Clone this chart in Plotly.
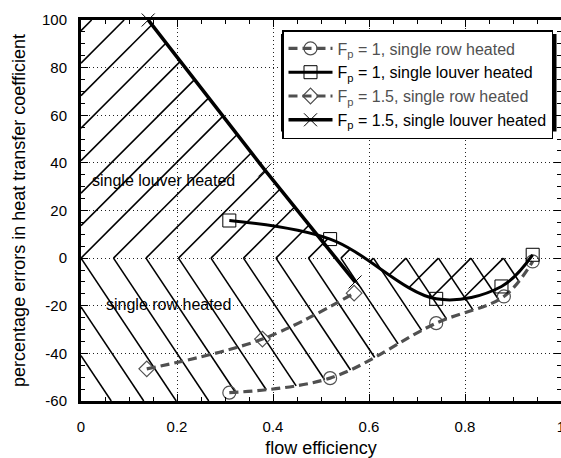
import numpy as np
import plotly.graph_objects as go

# ---------------- data ----------------
x_row_fp1 = [0.309, 0.519, 0.740, 0.881, 0.941]
y_row_fp1 = [-56.5, -50.4, -27.3, -16.1, -1.4]

x_louver_fp1 = [0.309, 0.519, 0.740, 0.876, 0.941]
y_louver_fp1 = [15.8, 8.0, -17.1, -11.9, 1.4]

x_row_fp15 = [0.137, 0.378, 0.569]
y_row_fp15 = [-46.5, -34.0, -14.7]

x_louver_fp15 = [0.140, 0.383, 0.571]
y_louver_fp15 = [100.0, 37.0, -10.0]

x_tickvals = [0, 0.2, 0.4, 0.6, 0.8, 1]
x_ticktext = ["0", "0.2", "0.4", "0.6", "0.8", "1"]
y_tickvals = [-60, -40, -20, 0, 20, 40, 60, 80, 100]
y_ticktext = ["-60", "-40", "-20", "0", "20", "40", "60", "80", "100"]

legend_names = [
    "<span style='color:#505050'>F<sub>p</sub> = 1, single row heated</span>",
    "F<sub>p</sub> = 1, single louver heated",
    "<span style='color:#505050'>F<sub>p</sub> = 1.5, single row heated</span>",
    "F<sub>p</sub> = 1.5, single louver heated",
]
region_labels = ["single louver heated", "single row heated"]
region_label_x = [0.171, 0.182]
region_label_y = [32.5, -19.5]

# ---------------- geometry / style ----------------
X_RANGE = [0.0, 1.0]
Y_RANGE = [-60.0, 100.0]
W, H = 561, 458
M_L, M_R, M_T, M_B = 81, 0, 20, 57
PW, PH = W - M_L - M_R, H - M_T - M_B

GRAY = "#505050"
HATCH_DX = 0.0677                      # spacing of hatch vertices along y = 0
PX_PER_X = PW / (X_RANGE[1] - X_RANGE[0])
PX_PER_Y = PH / (Y_RANGE[1] - Y_RANGE[0])
SLOPE_UP = 1.0 * PX_PER_X / PX_PER_Y
SLOPE_DN = -1.5 * PX_PER_X / PX_PER_Y


def to_px(x, y):
    x = np.asarray(x, float)
    y = np.asarray(y, float)
    return (x - X_RANGE[0]) * PX_PER_X, (Y_RANGE[1] - y) * PX_PER_Y


def from_px(px, py):
    return px / PX_PER_X + X_RANGE[0], Y_RANGE[1] - py / PX_PER_Y


def plotly_spline(xd, yd, n=200, s=1.0):
    """Same curve plotly draws for line_shape='spline' (smoothing=1)."""
    px, py = to_px(xd, yd)
    pts = np.column_stack([px, py])

    def tangent(p0, p1, p2):
        d1 = p0 - p1
        d2 = p2 - p1
        d1a = (d1 @ d1) ** 0.25
        d2a = (d2 @ d2) ** 0.25
        num = (d2a ** 2 * d1 - d1a ** 2 * d2) * s
        return p1 + num / (3 * d2a * (d1a + d2a)), p1 - num / (3 * d1a * (d1a + d2a))

    tans = [tangent(pts[i - 1], pts[i], pts[i + 1]) for i in range(1, len(pts) - 1)]
    t = np.linspace(0, 1, n)[:, None]
    segs = [(1 - t) ** 2 * pts[0] + 2 * (1 - t) * t * tans[0][0] + t ** 2 * pts[1]]
    for i in range(2, len(pts) - 1):
        segs.append((1 - t) ** 3 * pts[i - 1] + 3 * (1 - t) ** 2 * t * tans[i - 2][1]
                    + 3 * (1 - t) * t ** 2 * tans[i - 1][0] + t ** 3 * pts[i])
    segs.append((1 - t) ** 2 * pts[-2] + 2 * (1 - t) * t * tans[-1][1] + t ** 2 * pts[-1])
    arr = np.vstack(segs)
    return from_px(arr[:, 0], arr[:, 1])


xs = np.linspace(X_RANGE[0], X_RANGE[1], 20001)

# boundary of the "single louver heated" region
sx, sy = plotly_spline(x_louver_fp1, y_louver_fp1)
louver_curve = np.where((xs >= x_louver_fp1[0]) & (xs <= x_louver_fp1[-1]), np.interp(xs, sx, sy), np.nan)
thick = np.where(xs < x_louver_fp15[0], Y_RANGE[1],
                 np.where(xs <= x_louver_fp15[-1], np.interp(xs, x_louver_fp15, y_louver_fp15), np.nan))
cross = np.flatnonzero((xs >= x_louver_fp1[0]) & (thick <= louver_curve))
x_int = xs[cross[0]]
upper_bound = np.where(xs < x_int, thick, louver_curve)
A_lo = np.minimum(0, upper_bound)
A_hi = np.maximum(0, upper_bound)
A_lo[np.isnan(upper_bound)] = np.nan

# boundary of the "single row heated" region
cx, cy = plotly_spline(x_row_fp1, y_row_fp1)
row_curve = np.interp(xs, cx, cy)
B_lo = np.where(xs < x_row_fp1[0], Y_RANGE[0], np.where(xs <= x_row_fp1[-1], row_curve, np.nan))
B_hi = np.where(np.isnan(B_lo), np.nan, 0.0)


def hatch(lo, hi, slope):
    hx, hy = [], []
    for k in range(-15, 25):
        x0 = k * HATCH_DX
        ys = slope * (xs - x0)
        inside = (ys >= lo) & (ys <= hi)
        edges = np.flatnonzero(np.diff(np.r_[0, inside.astype(int), 0]))
        for a, b in zip(edges[0::2], edges[1::2] - 1):
            if b > a:
                hx += [xs[a], xs[b], None]
                hy += [ys[a], ys[b], None]
    return hx, hy


fig = go.Figure()

for (lo, hi, slope) in [(A_lo, A_hi, SLOPE_UP), (B_lo, B_hi, SLOPE_DN)]:
    hx, hy = hatch(lo, hi, slope)
    fig.add_trace(go.Scatter(x=hx, y=hy, mode="lines", line=dict(color="black", width=1.6),
                             showlegend=False, hoverinfo="skip"))

fig.add_trace(go.Scatter(
    x=x_row_fp1, y=y_row_fp1, name=legend_names[0], mode="lines+markers",
    line=dict(color=GRAY, width=3.2, dash="9px,5px", shape="spline"),
    marker=dict(symbol="circle-open", size=13, color=GRAY, line=dict(width=1.2))))
fig.add_trace(go.Scatter(
    x=x_louver_fp1, y=y_louver_fp1, name=legend_names[1], mode="lines+markers",
    line=dict(color="black", width=3, shape="spline"),
    marker=dict(symbol="square-open", size=13, color="black", line=dict(width=1))))
fig.add_trace(go.Scatter(
    x=x_row_fp15, y=y_row_fp15, name=legend_names[2], mode="lines+markers",
    line=dict(color=GRAY, width=3.2, dash="9px,5px", shape="spline"),
    marker=dict(symbol="diamond-open", size=12, color=GRAY, line=dict(width=1.2))))
fig.add_trace(go.Scatter(
    x=x_louver_fp15, y=y_louver_fp15, name=legend_names[3], mode="lines+markers",
    line=dict(color="black", width=3.6), cliponaxis=False,
    marker=dict(symbol="x-thin-open", size=13, color="black", line=dict(width=1))))

for txt, ax_, ay_ in zip(region_labels, region_label_x, region_label_y):
    fig.add_annotation(x=ax_, y=ay_, text=txt, showarrow=False,
                       font=dict(size=16, color="black"))

# legend drop shadow (paper coordinates of the legend box, offset by a few pixels)
LEG_L, LEG_T, LEG_R, LEG_B = 277, 30, 553, 128
fig.add_shape(type="rect", xref="paper", yref="paper",
              x0=(LEG_L + 4 - M_L) / PW, x1=(LEG_R + 3.5 - M_L) / PW,
              y0=1 - (LEG_B + 3.5 - M_T) / PH, y1=1 - (LEG_T + 4 - M_T) / PH,
              fillcolor="black", line=dict(width=0), layer="above")

axis_common = dict(
    ticks="inside", ticklen=7, tickwidth=1, tickcolor="black",
    showline=True, linewidth=3, linecolor="black", mirror="allticks",
    showgrid=True, gridcolor="#222222", griddash="1px,3px", gridwidth=1,
    zeroline=False, tickfont=dict(size=15, color="black"), ticklabeloverflow="allow",
)
fig.update_xaxes(range=X_RANGE, tickmode="array", tickvals=x_tickvals, ticktext=x_ticktext,
                 minor=dict(dtick=0.05, tick0=0, ticks="inside", ticklen=4, tickcolor="black", showgrid=False),
                 ticklabelstandoff=10,
                 title=dict(text="flow efficiency", font=dict(size=18), standoff=10), **axis_common)
fig.update_yaxes(range=Y_RANGE, tickmode="array", tickvals=y_tickvals, ticktext=y_ticktext,
                 minor=dict(dtick=5, tick0=0, ticks="inside", ticklen=4, tickcolor="black", showgrid=False),
                 ticklabelstandoff=8,
                 title=dict(text="percentage errors in heat transfer coefficient", font=dict(size=18), standoff=12),
                 **axis_common)

fig.update_layout(
    width=W, height=H, margin=dict(l=M_L, r=M_R, t=M_T, b=M_B, autoexpand=False),
    plot_bgcolor="white", paper_bgcolor="white",
    font=dict(family="Liberation Sans, Arial, sans-serif", size=15, color="black"),
    legend=dict(x=(LEG_R - M_L) / PW, xanchor="right", y=1 - (LEG_T - M_T) / PH, yanchor="top",
                bgcolor="white", bordercolor="black", borderwidth=1.5,
                font=dict(size=16, color="black"), tracegroupgap=0, itemwidth=44),
)

fig.write_html("out.html")
